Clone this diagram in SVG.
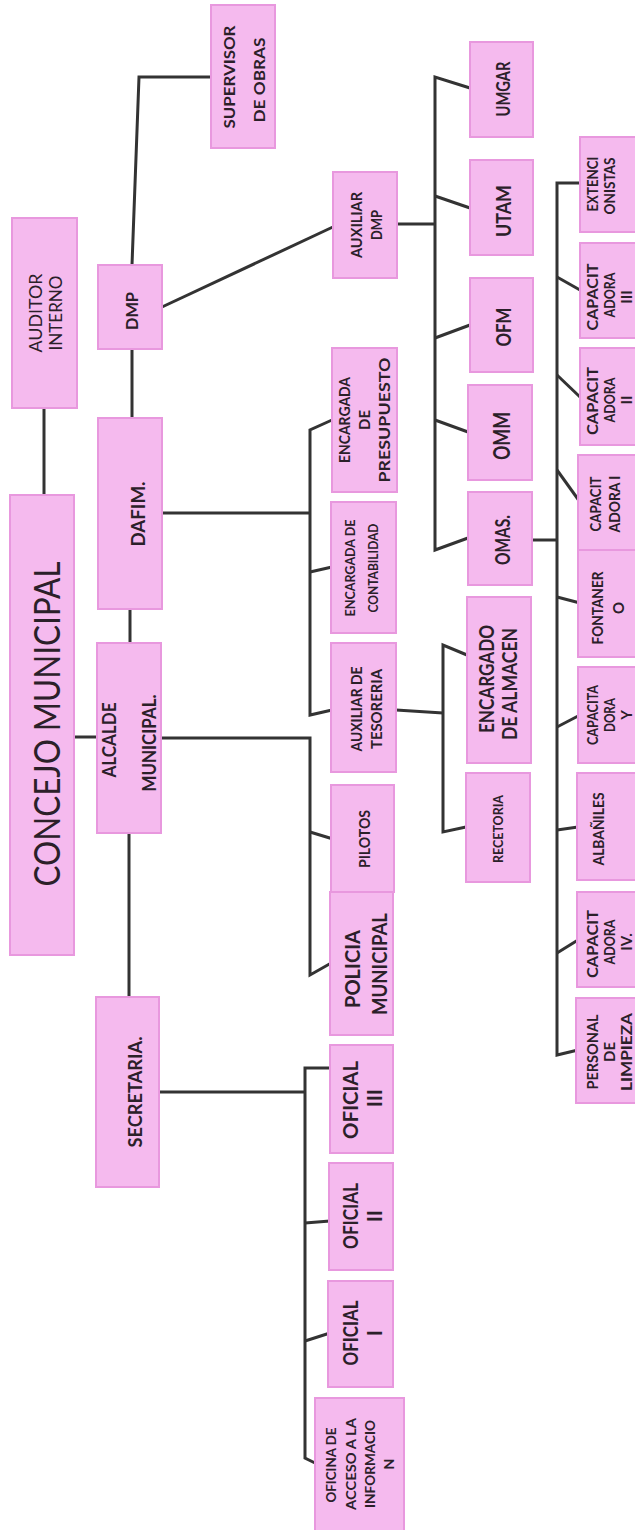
<svg xmlns="http://www.w3.org/2000/svg" width="635" height="1530" viewBox="0 0 635 1530">
<style>
.n{fill:#f5baee;stroke:#e898de;stroke-width:2}
.t{font-family:Lato,"Open Sans","Liberation Sans",sans-serif;font-weight:bold;fill:#2b2029;text-anchor:middle}
.r{font-family:Lato,"Open Sans","Liberation Sans",sans-serif;font-weight:normal;fill:#2b2029;text-anchor:middle}
.c path{fill:none;stroke:#333;stroke-width:3;stroke-linejoin:miter}
</style>
<rect width="635" height="1530" fill="#fff"/>
<g class="c" id="connectors">
<path d="M44 408V495"/>
<path d="M74 737H97"/>
<path d="M132 265L139 77H211"/>
<path d="M132 349V418"/>
<path d="M162 307L335 226"/>
<path d="M130 609V643"/>
<path d="M129 833V997"/>
<path d="M397 224H435"/>
<path d="M470 88L435 77V550L468 538"/>
<path d="M435 196L470 208"/>
<path d="M435 338L470 325"/>
<path d="M435 420L468 432"/>
<path d="M532 540H557"/>
<path d="M580 183H557V1055L578 1050"/>
<path d="M557 277L580 290"/>
<path d="M557 375L580 397"/>
<path d="M557 470L580 502"/>
<path d="M557 597L580 603"/>
<path d="M557 727L580 715"/>
<path d="M557 830L578 827"/>
<path d="M557 953L578 940"/>
<path d="M162 513H310"/>
<path d="M332 420L310 430V715L332 710"/>
<path d="M310 572L332 567"/>
<path d="M396 710L443 713"/>
<path d="M467 655L443 645V832L466 827"/>
<path d="M161 738H310V975L333 962"/>
<path d="M310 832L333 839"/>
<path d="M159 1092H305"/>
<path d="M330 1068H305V1458L315 1463"/>
<path d="M305 1223L330 1221"/>
<path d="M305 1341L330 1333"/>
</g>
<g id="n-supervisor"><rect class="n" x="211" y="5" width="64" height="143"/>
<text class="t" font-size="16" transform="translate(235,77) rotate(-90)" textLength="103" lengthAdjust="spacingAndGlyphs">SUPERVISOR</text>
<text class="t" font-size="16" transform="translate(265,80) rotate(-90)" textLength="85" lengthAdjust="spacingAndGlyphs">DE OBRAS</text></g>
<g id="n-auditor"><rect class="n" x="12" y="218" width="65" height="190"/>
<text class="r" font-size="17" transform="translate(42,313) rotate(-90)" textLength="79" lengthAdjust="spacingAndGlyphs">AUDITOR</text>
<text class="r" font-size="17" transform="translate(62,313) rotate(-90)" textLength="75" lengthAdjust="spacingAndGlyphs">INTERNO</text></g>
<g id="n-dmp"><rect class="n" x="98" y="265" width="64" height="84"/>
<text class="t" font-size="17" transform="translate(138,311) rotate(-90)" textLength="38" lengthAdjust="spacingAndGlyphs">DMP</text></g>
<g id="n-dafim"><rect class="n" x="98" y="418" width="64" height="191"/>
<text class="t" font-size="18" transform="translate(145,514) rotate(-90)" textLength="65" lengthAdjust="spacingAndGlyphs">DAFIM.</text></g>
<g id="n-alcalde"><rect class="n" x="97" y="643" width="64" height="190"/>
<text class="t" font-size="18" transform="translate(116,740) rotate(-90)" textLength="75" lengthAdjust="spacingAndGlyphs">ALCALDE</text>
<text class="t" font-size="18" transform="translate(156,743) rotate(-90)" textLength="97" lengthAdjust="spacingAndGlyphs">MUNICIPAL.</text></g>
<g id="n-concejo"><rect class="n" x="10" y="495" width="64" height="460"/>
<text class="r" font-size="36" transform="translate(60,724) rotate(-90)" textLength="325" lengthAdjust="spacingAndGlyphs">CONCEJO MUNICIPAL</text></g>
<g id="n-secretaria"><rect class="n" x="96" y="997" width="63" height="190"/>
<text class="t" font-size="18" transform="translate(142,1092) rotate(-90)" textLength="111" lengthAdjust="spacingAndGlyphs">SECRETARIA.</text></g>
<g id="n-auxdmp"><rect class="n" x="333" y="172" width="64" height="106"/>
<text class="t" font-size="15" transform="translate(362,225) rotate(-90)" textLength="66" lengthAdjust="spacingAndGlyphs">AUXILIAR</text>
<text class="t" font-size="15" transform="translate(382,225) rotate(-90)" textLength="30" lengthAdjust="spacingAndGlyphs">DMP</text></g>
<g id="n-umgar"><rect class="n" x="470" y="42" width="63" height="95"/>
<text class="t" font-size="18" transform="translate(510,89) rotate(-90)" textLength="55" lengthAdjust="spacingAndGlyphs">UMGAR</text></g>
<g id="n-utam"><rect class="n" x="470" y="160" width="63" height="95"/>
<text class="t" font-size="21" transform="translate(511,211) rotate(-90)" textLength="52" lengthAdjust="spacingAndGlyphs">UTAM</text></g>
<g id="n-ofm"><rect class="n" x="470" y="278" width="63" height="94"/>
<text class="t" font-size="21" transform="translate(511,327) rotate(-90)" textLength="39" lengthAdjust="spacingAndGlyphs">OFM</text></g>
<g id="n-omm"><rect class="n" x="468" y="385" width="64" height="95"/>
<text class="t" font-size="22" transform="translate(510,436) rotate(-90)" textLength="48" lengthAdjust="spacingAndGlyphs">OMM</text></g>
<g id="n-omas"><rect class="n" x="468" y="492" width="64" height="93"/>
<text class="t" font-size="21" transform="translate(510,540) rotate(-90)" textLength="50" lengthAdjust="spacingAndGlyphs">OMAS.</text></g>
<g id="n-presupuesto"><rect class="n" x="332" y="348" width="65" height="144"/>
<text class="t" font-size="15" transform="translate(350,420) rotate(-90)" textLength="86" lengthAdjust="spacingAndGlyphs">ENCARGADA</text>
<text class="t" font-size="15" transform="translate(370,420) rotate(-90)">DE</text>
<text class="t" font-size="15" transform="translate(390,420) rotate(-90)" textLength="125" lengthAdjust="spacingAndGlyphs">PRESUPUESTO</text></g>
<g id="n-contabilidad"><rect class="n" x="331" y="502" width="65" height="131"/>
<text class="t" font-size="13" transform="translate(355,568) rotate(-90)" textLength="97" lengthAdjust="spacingAndGlyphs">ENCARGADA DE</text>
<text class="t" font-size="13" transform="translate(378,568) rotate(-90)" textLength="89" lengthAdjust="spacingAndGlyphs">CONTABILIDAD</text></g>
<g id="n-tesoreria"><rect class="n" x="331" y="643" width="65" height="129"/>
<text class="t" font-size="15" transform="translate(362,709) rotate(-90)" textLength="85" lengthAdjust="spacingAndGlyphs">AUXILIAR DE</text>
<text class="t" font-size="15" transform="translate(382,709) rotate(-90)" textLength="80" lengthAdjust="spacingAndGlyphs">TESORERIA</text></g>
<g id="n-almacen"><rect class="n" x="467" y="597" width="64" height="166"/>
<text class="t" font-size="20" transform="translate(494,679) rotate(-90)" textLength="108" lengthAdjust="spacingAndGlyphs">ENCARGADO</text>
<text class="t" font-size="20" transform="translate(517,684) rotate(-90)" textLength="112" lengthAdjust="spacingAndGlyphs">DE ALMACEN</text></g>
<g id="n-recetoria"><rect class="n" x="466" y="773" width="64" height="109"/>
<text class="t" font-size="13" transform="translate(503,829) rotate(-90)" textLength="68" lengthAdjust="spacingAndGlyphs">RECETORIA</text></g>
<g id="n-pilotos"><rect class="n" x="331" y="785" width="63" height="107"/>
<text class="t" font-size="15" transform="translate(370,839) rotate(-90)" textLength="58" lengthAdjust="spacingAndGlyphs">PILOTOS</text></g>
<g id="n-policia"><rect class="n" x="330" y="892" width="63" height="143"/>
<text class="t" font-size="20" transform="translate(360,969) rotate(-90)" textLength="78" lengthAdjust="spacingAndGlyphs">POLICIA</text>
<text class="t" font-size="20" transform="translate(387,964) rotate(-90)" textLength="102" lengthAdjust="spacingAndGlyphs">MUNICIPAL</text></g>
<g id="n-oficial3"><rect class="n" x="330" y="1045" width="63" height="108"/>
<text class="t" font-size="20" transform="translate(358,1100) rotate(-90)" textLength="78" lengthAdjust="spacingAndGlyphs">OFICIAL</text>
<text class="t" font-size="20" transform="translate(382,1098) rotate(-90)">III</text></g>
<g id="n-oficial2"><rect class="n" x="329" y="1163" width="64" height="107"/>
<text class="t" font-size="20" transform="translate(358,1216) rotate(-90)" textLength="66" lengthAdjust="spacingAndGlyphs">OFICIAL</text>
<text class="t" font-size="20" transform="translate(382,1216) rotate(-90)">II</text></g>
<g id="n-oficial1"><rect class="n" x="328" y="1281" width="65" height="106"/>
<text class="t" font-size="20" transform="translate(358,1333) rotate(-90)" textLength="65" lengthAdjust="spacingAndGlyphs">OFICIAL</text>
<text class="t" font-size="20" transform="translate(382,1333) rotate(-90)">I</text></g>
<g id="n-oficina"><rect class="n" x="315" y="1398" width="89" height="134"/>
<text class="t" font-size="14" transform="translate(336,1465) rotate(-90)" textLength="75" lengthAdjust="spacingAndGlyphs">OFICINA DE</text>
<text class="t" font-size="14" transform="translate(356,1464) rotate(-90)" textLength="92" lengthAdjust="spacingAndGlyphs">ACCESO A LA</text>
<text class="t" font-size="14" transform="translate(375,1464) rotate(-90)" textLength="88" lengthAdjust="spacingAndGlyphs">INFORMACIO</text>
<text class="t" font-size="14" transform="translate(394,1464) rotate(-90)">N</text></g>
<g id="n-extencionistas"><rect class="n" x="580" y="137" width="65" height="95"/>
<text class="t" font-size="15" transform="translate(598,184) rotate(-90)" textLength="55" lengthAdjust="spacingAndGlyphs">EXTENCI</text>
<text class="t" font-size="15" transform="translate(615,186) rotate(-90)" textLength="57" lengthAdjust="spacingAndGlyphs">ONISTAS</text></g>
<g id="n-cap3"><rect class="n" x="580" y="243" width="65" height="95"/>
<text class="t" font-size="15" transform="translate(598,297) rotate(-90)" textLength="67" lengthAdjust="spacingAndGlyphs">CAPACIT</text>
<text class="t" font-size="15" transform="translate(615,295) rotate(-90)" textLength="45" lengthAdjust="spacingAndGlyphs">ADORA</text>
<text class="t" font-size="15" transform="translate(632,297) rotate(-90)">III</text></g>
<g id="n-cap2"><rect class="n" x="580" y="348" width="65" height="97"/>
<text class="t" font-size="15" transform="translate(598,401) rotate(-90)" textLength="68" lengthAdjust="spacingAndGlyphs">CAPACIT</text>
<text class="t" font-size="15" transform="translate(615,400) rotate(-90)" textLength="45" lengthAdjust="spacingAndGlyphs">ADORA</text>
<text class="t" font-size="15" transform="translate(632,400) rotate(-90)">II</text></g>
<g id="n-cap1"><rect class="n" x="578" y="455" width="67" height="95"/>
<text class="t" font-size="15" transform="translate(601,504) rotate(-90)" textLength="55" lengthAdjust="spacingAndGlyphs">CAPACIT</text>
<text class="t" font-size="15" transform="translate(620,504) rotate(-90)" textLength="57" lengthAdjust="spacingAndGlyphs">ADORA I</text></g>
<g id="n-fontanero"><rect class="n" x="578" y="550" width="67" height="107"/>
<text class="t" font-size="15" transform="translate(603,608) rotate(-90)" textLength="73" lengthAdjust="spacingAndGlyphs">FONTANER</text>
<text class="t" font-size="15" transform="translate(624,608) rotate(-90)">O</text></g>
<g id="n-capy"><rect class="n" x="578" y="667" width="67" height="96"/>
<text class="t" font-size="15" transform="translate(598,715) rotate(-90)" textLength="60" lengthAdjust="spacingAndGlyphs">CAPACITA</text>
<text class="t" font-size="15" transform="translate(615,715) rotate(-90)" textLength="34" lengthAdjust="spacingAndGlyphs">DORA</text>
<text class="t" font-size="15" transform="translate(632,715) rotate(-90)">Y</text></g>
<g id="n-albaniles"><rect class="n" x="577" y="773" width="68" height="107"/>
<text class="t" font-size="15" transform="translate(604,829) rotate(-90)" textLength="73" lengthAdjust="spacingAndGlyphs">ALBAÑILES</text></g>
<g id="n-cap4"><rect class="n" x="577" y="892" width="68" height="95"/>
<text class="t" font-size="15" transform="translate(598,944) rotate(-90)" textLength="68" lengthAdjust="spacingAndGlyphs">CAPACIT</text>
<text class="t" font-size="15" transform="translate(615,942) rotate(-90)" textLength="45" lengthAdjust="spacingAndGlyphs">ADORA</text>
<text class="t" font-size="15" transform="translate(632,942) rotate(-90)">IV.</text></g>
<g id="n-limpieza"><rect class="n" x="576" y="998" width="69" height="105"/>
<text class="t" font-size="15" transform="translate(598,1052) rotate(-90)" textLength="75" lengthAdjust="spacingAndGlyphs">PERSONAL</text>
<text class="t" font-size="15" transform="translate(615,1052) rotate(-90)">DE</text>
<text class="t" font-size="15" transform="translate(632,1052) rotate(-90)" textLength="78" lengthAdjust="spacingAndGlyphs">LIMPIEZA</text></g>
</svg>
